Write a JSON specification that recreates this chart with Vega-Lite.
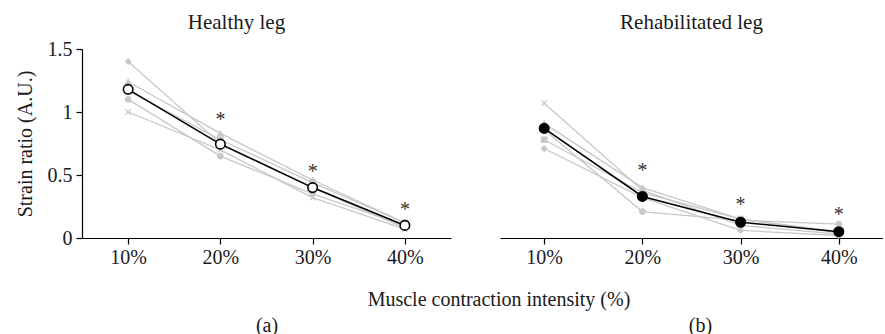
{
  "$schema": "https://vega.github.io/schema/vega-lite/v6.json",
  "autosize": {"type": "pad"},
  "padding": {"left": 15, "top": 12, "right": 0, "bottom": 0},
  "background": "white",
  "spacing": 49,
  "config": {
    "font": "Liberation Serif",
    "view": {"stroke": null},
    "axis": {
      "domainColor": "#000",
      "domainWidth": 1.2,
      "tickColor": "#000",
      "tickWidth": 1.2,
      "tickSize": 6,
      "grid": false,
      "labelFont": "Liberation Serif",
      "labelFontSize": 20,
      "labelColor": "#1a1a1a",
      "titleFont": "Liberation Serif",
      "titleFontSize": 20,
      "titleFontWeight": "normal",
      "titleColor": "#1a1a1a"
    },
    "title": {"font": "Liberation Serif", "fontSize": 21, "fontWeight": "normal", "color": "#1a1a1a", "offset": 16, "frame": "group"}
  },
  "title": {"text": "Muscle contraction intensity (%)", "orient": "bottom", "anchor": "middle", "frame": "bounds", "dy": -61, "dx": 50, "fontSize": 20},
  "datasets": {
    "subjects": [
      {"panel": "H", "subject": "A", "intensity": "10%", "ratio": 1.40},
      {"panel": "H", "subject": "A", "intensity": "20%", "ratio": 0.75},
      {"panel": "H", "subject": "A", "intensity": "30%", "ratio": 0.40},
      {"panel": "H", "subject": "A", "intensity": "40%", "ratio": 0.08},
      {"panel": "H", "subject": "B", "intensity": "10%", "ratio": 1.24},
      {"panel": "H", "subject": "B", "intensity": "20%", "ratio": 0.83},
      {"panel": "H", "subject": "B", "intensity": "30%", "ratio": 0.46},
      {"panel": "H", "subject": "B", "intensity": "40%", "ratio": 0.12},
      {"panel": "H", "subject": "C", "intensity": "10%", "ratio": 1.17},
      {"panel": "H", "subject": "C", "intensity": "20%", "ratio": 0.78},
      {"panel": "H", "subject": "C", "intensity": "30%", "ratio": 0.44},
      {"panel": "H", "subject": "C", "intensity": "40%", "ratio": 0.12},
      {"panel": "H", "subject": "D", "intensity": "10%", "ratio": 1.10},
      {"panel": "H", "subject": "D", "intensity": "20%", "ratio": 0.65},
      {"panel": "H", "subject": "D", "intensity": "30%", "ratio": 0.35},
      {"panel": "H", "subject": "D", "intensity": "40%", "ratio": 0.10},
      {"panel": "H", "subject": "E", "intensity": "10%", "ratio": 1.00},
      {"panel": "H", "subject": "E", "intensity": "20%", "ratio": 0.70},
      {"panel": "H", "subject": "E", "intensity": "30%", "ratio": 0.32},
      {"panel": "H", "subject": "E", "intensity": "40%", "ratio": 0.07},
      {"panel": "R", "subject": "A", "intensity": "10%", "ratio": 0.71},
      {"panel": "R", "subject": "A", "intensity": "20%", "ratio": 0.32},
      {"panel": "R", "subject": "A", "intensity": "30%", "ratio": 0.06},
      {"panel": "R", "subject": "A", "intensity": "40%", "ratio": 0.02},
      {"panel": "R", "subject": "B", "intensity": "10%", "ratio": 0.91},
      {"panel": "R", "subject": "B", "intensity": "20%", "ratio": 0.40},
      {"panel": "R", "subject": "B", "intensity": "30%", "ratio": 0.15},
      {"panel": "R", "subject": "B", "intensity": "40%", "ratio": 0.04},
      {"panel": "R", "subject": "C", "intensity": "10%", "ratio": 0.78},
      {"panel": "R", "subject": "C", "intensity": "20%", "ratio": 0.36},
      {"panel": "R", "subject": "C", "intensity": "30%", "ratio": 0.15},
      {"panel": "R", "subject": "C", "intensity": "40%", "ratio": 0.05},
      {"panel": "R", "subject": "D", "intensity": "10%", "ratio": 0.86},
      {"panel": "R", "subject": "D", "intensity": "20%", "ratio": 0.21},
      {"panel": "R", "subject": "D", "intensity": "30%", "ratio": 0.14},
      {"panel": "R", "subject": "D", "intensity": "40%", "ratio": 0.11},
      {"panel": "R", "subject": "E", "intensity": "10%", "ratio": 1.07},
      {"panel": "R", "subject": "E", "intensity": "20%", "ratio": 0.38},
      {"panel": "R", "subject": "E", "intensity": "30%", "ratio": 0.10},
      {"panel": "R", "subject": "E", "intensity": "40%", "ratio": 0.03}
    ],
    "means": [
      {"panel": "H", "intensity": "10%", "ratio": 1.18},
      {"panel": "H", "intensity": "20%", "ratio": 0.745},
      {"panel": "H", "intensity": "30%", "ratio": 0.40},
      {"panel": "H", "intensity": "40%", "ratio": 0.10},
      {"panel": "R", "intensity": "10%", "ratio": 0.87},
      {"panel": "R", "intensity": "20%", "ratio": 0.33},
      {"panel": "R", "intensity": "30%", "ratio": 0.125},
      {"panel": "R", "intensity": "40%", "ratio": 0.05}
    ],
    "stars": [
      {"panel": "H", "intensity": "20%", "ratio": 0.94, "label": "*"},
      {"panel": "H", "intensity": "30%", "ratio": 0.52, "label": "*"},
      {"panel": "H", "intensity": "40%", "ratio": 0.225, "label": "*"},
      {"panel": "R", "intensity": "20%", "ratio": 0.535, "label": "*"},
      {"panel": "R", "intensity": "30%", "ratio": 0.26, "label": "*"},
      {"panel": "R", "intensity": "40%", "ratio": 0.18, "label": "*"}
    ]
  },
  "hconcat": [
    {
      "width": 369,
      "height": 189,
      "title": {"text": "Healthy leg", "dx": -30, "offset": 6},
      "encoding": {
        "x": {"field": "intensity", "type": "ordinal", "sort": ["10%", "20%", "30%", "40%"], "scale": {"type": "point", "padding": 0.5},
              "axis": {"title": "(a)", "labelAngle": 0, "labelPadding": 3, "titlePadding": 48}},
        "y": {"field": "ratio", "type": "quantitative", "scale": {"domain": [0, 1.5]},
              "axis": {"values": [0, 0.5, 1, 1.5], "labelExpr": "'' + datum.value", "title": "Strain ratio (A.U.)", "labelPadding": 4, "titlePadding": 12}}
      },
      "layer": [
        {"data": {"name": "subjects"}, "transform": [{"filter": "datum.panel == 'H'"}],
         "mark": {"type": "line", "color": "#c8c8c8", "strokeWidth": 1.3},
         "encoding": {"detail": {"field": "subject"}}},
        {"data": {"name": "subjects"}, "transform": [{"filter": "datum.panel == 'H'"}],
         "mark": {"type": "point", "filled": true, "fill": "#c8c8c8", "stroke": "#c8c8c8", "strokeWidth": 1.2, "size": 30, "opacity": 1},
         "encoding": {"shape": {"field": "subject", "scale": {"domain": ["A", "B", "C", "D", "E"], "range": ["diamond", "triangle-up", "square", "circle", "M-1,-1L1,1M-1,1L1,-1"]}, "legend": null}}},
        {"data": {"name": "means"}, "transform": [{"filter": "datum.panel == 'H'"}],
         "mark": {"type": "line", "color": "#000", "strokeWidth": 1.6}},
        {"data": {"name": "means"}, "transform": [{"filter": "datum.panel == 'H'"}],
         "mark": {"type": "point", "shape": "circle", "filled": true, "fill": "white", "stroke": "#000", "strokeWidth": 1.6, "size": 90, "opacity": 1}},
        {"data": {"name": "stars"}, "transform": [{"filter": "datum.panel == 'H'"}],
         "mark": {"type": "text", "fontSize": 20, "baseline": "middle", "color": "#333"},
         "encoding": {"text": {"field": "label"}}}
      ]
    },
    {
      "width": 383,
      "height": 189,
      "title": {"text": "Rehabilitated leg", "dx": 0},
      "encoding": {
        "x": {"field": "intensity", "type": "ordinal", "sort": ["10%", "20%", "30%", "40%"], "scale": {"type": "point", "padding": 0.45},
              "axis": {"title": "(b)", "labelAngle": 0, "labelPadding": 3, "titlePadding": 48, "titleX": 200}},
        "y": {"field": "ratio", "type": "quantitative", "scale": {"domain": [0, 1.5]}, "axis": null}
      },
      "layer": [
        {"data": {"name": "subjects"}, "transform": [{"filter": "datum.panel == 'R'"}],
         "mark": {"type": "line", "color": "#c8c8c8", "strokeWidth": 1.3},
         "encoding": {"detail": {"field": "subject"}}},
        {"data": {"name": "subjects"}, "transform": [{"filter": "datum.panel == 'R'"}],
         "mark": {"type": "point", "filled": true, "fill": "#c8c8c8", "stroke": "#c8c8c8", "strokeWidth": 1.2, "size": 30, "opacity": 1},
         "encoding": {"shape": {"field": "subject", "scale": {"domain": ["A", "B", "C", "D", "E"], "range": ["M-1,-1L1,1M-1,1L1,-1", "triangle-up", "square", "circle", "M-1,-1L1,1M-1,1L1,-1"]}, "legend": null}}},
        {"data": {"name": "means"}, "transform": [{"filter": "datum.panel == 'R'"}],
         "mark": {"type": "line", "color": "#000", "strokeWidth": 1.6}},
        {"data": {"name": "means"}, "transform": [{"filter": "datum.panel == 'R'"}],
         "mark": {"type": "point", "shape": "circle", "filled": true, "fill": "#000", "stroke": "#000", "strokeWidth": 1.6, "size": 90, "opacity": 1}},
        {"data": {"name": "stars"}, "transform": [{"filter": "datum.panel == 'R'"}],
         "mark": {"type": "text", "fontSize": 20, "baseline": "middle", "color": "#333"},
         "encoding": {"text": {"field": "label"}}}
      ]
    }
  ]
}
